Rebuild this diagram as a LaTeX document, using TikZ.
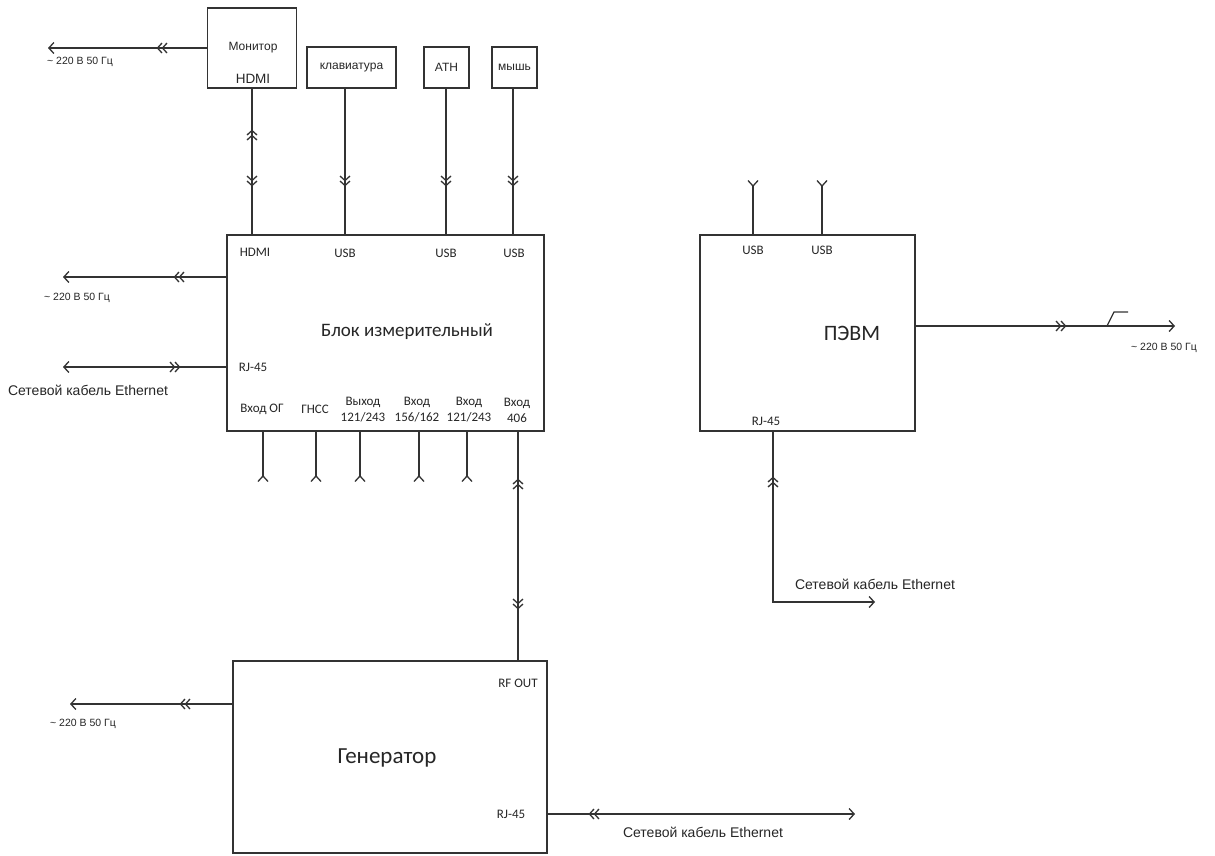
\documentclass[tikz,border=0pt]{standalone}
\usepackage{fontspec}
\setmainfont{Carlito}
\newfontfamily\arialf{Liberation Sans}
\usetikzlibrary{arrows.meta,calc}
\tikzset{
  ln/.style={line width=1.3pt, draw=black!80},
  box/.style={ln, rectangle, inner sep=0pt, fill=white},
  tipend/.style={-{Straight Barb[length=5pt,width=11pt,line width=1.3pt]}},
  lbl/.style={inner sep=0pt, text=black!85, font=\fontsize{13}{16}\selectfont, align=center},
  albl/.style={inner sep=0pt, text=black!85, font=\arialf\fontsize{12}{14}\selectfont},
  pwr/.style={inner sep=0pt, text=black!85, font=\arialf\fontsize{10.5}{12}\selectfont},
  eth/.style={inner sep=0pt, text=black!85, font=\arialf\fontsize{14}{16}\selectfont},
  title/.style={inner sep=0pt, text=black!85, font=\fontsize{20}{24}\selectfont},
  dchev/.pic={\draw[ln] (-7,-5)--(-2.5,0)--(-7,5) (-2,-5)--(2.5,0)--(-2,5);},
  fork/.pic={\draw[ln] (5.5,-5)--(0,0)--(5.5,5);}
}
\begin{document}
\begin{tikzpicture}[x=1pt,y=-1pt]
\useasboundingbox[fill=white] (0,0) rectangle (1215,855);

% boxes
\node[box, minimum width=89pt, minimum height=80pt] (mon) at (252,48) {};
\node[box, minimum width=89pt, minimum height=41pt] (kbd) at (351.5,67.5) {};
\node[box, minimum width=45pt, minimum height=41pt] (ath) at (446.5,67.5) {};
\node[box, minimum width=45pt, minimum height=41pt] (mouse) at (514.5,67.5) {};
\node[box, minimum width=317pt, minimum height=196pt] (blk) at (385.5,333) {};
\node[box, minimum width=215pt, minimum height=196pt] (pc) at (807.5,333) {};
\node[box, minimum width=314pt, minimum height=192pt] (gen) at (390,757) {};

% box texts
\node[albl] (tmon) at (253,48) {Монитор};
\node[albl, font=\arialf\fontsize{13.5}{15}\selectfont] (tmonh) at (253,79) {HDMI};
\node[albl] (tkbd) at (351.5,68) {клавиатура};
\node[albl] (tath) at (446.5,67) {АТН};
\node[albl] (tmouse) at (514.5,67) {мышь};

\node[title, font=\fontsize{19}{23}\selectfont] (tblk) at (407,332) {Блок измерительный};
\node[lbl] (bh) at (255,252) {HDMI};
\node[lbl] (bu1) at (345,253) {USB};
\node[lbl] (bu2) at (446,253) {USB};
\node[lbl] (bu3) at (514,253) {USB};
\node[lbl] (brj) at (253,367) {RJ-45};
\node[lbl] (bl1) at (262,409) {Вход ОГ};
\node[lbl] (bl2) at (315,409) {ГНСС};
\node[lbl] (bl3) at (363,410) {Выход\\121/243};
\node[lbl] (bl4) at (417,410) {Вход\\156/162};
\node[lbl] (bl5) at (469,410) {Вход\\121/243};
\node[lbl] (bl6) at (517,410) {Вход\\406};

\node[title, font=\fontsize{22}{26}\selectfont] (tpc) at (852,333) {ПЭВМ};
\node[lbl] (pu1) at (753,250) {USB};
\node[lbl] (pu2) at (822,250) {USB};
\node[lbl] (prj) at (766,421) {RJ-45};

\node[title, font=\fontsize{23}{27}\selectfont] (tgen) at (387,758) {Генератор};
\node[lbl] (grf) at (518,683) {RF OUT};
\node[lbl] (grj) at (511,814) {RJ-45};

% external labels
\node[pwr] (lp1) at (80,62) {\textasciitilde{} 220 В 50 Гц};
\node[pwr] (lp2) at (77,298) {\textasciitilde{} 220 В 50 Гц};
\node[pwr] (lp3) at (83,724) {\textasciitilde{} 220 В 50 Гц};
\node[pwr] (lp4) at (1164,348) {\textasciitilde{} 220 В 50 Гц};
\node[eth] (le1) at (88,390) {Сетевой кабель Ethernet};
\node[eth] (le2) at (875,584) {Сетевой кабель Ethernet};
\node[eth] (le3) at (703,832) {Сетевой кабель Ethernet};

% coordinates
\coordinate (u1) at (345,235);
\coordinate (u2) at (446,235);
\coordinate (u3) at (513,235);
\foreach \i/\x in {1/263,2/316,3/360,4/419,5/467,6/518} {
  \coordinate (b\i) at (\x,431);
  \coordinate (e\i) at (\x,476);
}
\coordinate (p1) at (753,235); \coordinate (q1) at (753,186);
\coordinate (p2) at (822,235); \coordinate (q2) at (822,186);
\coordinate (pe0) at (773,431); \coordinate (pe1) at (773,602); \coordinate (pe2) at (875,602);
\coordinate (pw1) at (48,48);
\coordinate (bp) at (63,277);
\coordinate (be) at (63,367);
\coordinate (gp) at (70,704);
\coordinate (ge) at (855,814);
\coordinate (pp) at (1175,326);

% connectors
\draw[ln, tipend] (mon.west) -- (pw1);
\pic[rotate=180] at (160,48) {dchev};

\draw[ln] (mon.south) -- (mon.south |- blk.north);
\pic[rotate=90] at (252,133) {dchev};
\pic[rotate=-90] at (252,183) {dchev};

\draw[ln] (kbd.south -| u1) -- (u1);
\draw[ln] (ath.south -| u2) -- (u2);
\draw[ln] (mouse.south -| u3) -- (u3);
\pic[rotate=-90] at (345,183) {dchev};
\pic[rotate=-90] at (446,183) {dchev};
\pic[rotate=-90] at (513,183) {dchev};

\draw[ln, tipend] (blk.west |- bp) -- (bp);
\pic[rotate=180] at (177,277) {dchev};
\draw[ln, tipend] (blk.west |- be) -- (be);
\pic at (177,367) {dchev};

\foreach \i in {1,...,5} {
  \draw[ln] (b\i) -- (e\i);
  \pic[rotate=-90] at (e\i) {fork};
}
\draw[ln] (b6) -- (gen.north -| b6);
\pic[rotate=90] at (518,482) {dchev};
\pic[rotate=-90] at (518,606) {dchev};

\draw[ln, tipend] (gen.west |- gp) -- (gp);
\pic[rotate=180] at (183,704) {dchev};
\draw[ln, tipend] (gen.east |- ge) -- (ge);
\pic[rotate=180] at (592,814) {dchev};

\draw[ln] (p1) -- (q1);
\pic[rotate=90] at (q1) {fork};
\draw[ln] (p2) -- (q2);
\pic[rotate=90] at (q2) {fork};

\draw[ln, tipend] (pc.east |- pp) -- (pp);
\pic at (1063,326) {dchev};
\draw[ln] (1107,326) -- (1114,312) -- (1128,312);

\draw[ln, tipend] (pe0) -- (pe1) -- (pe2);
\pic[rotate=90] at (773,480) {dchev};
\end{tikzpicture}
\end{document}
